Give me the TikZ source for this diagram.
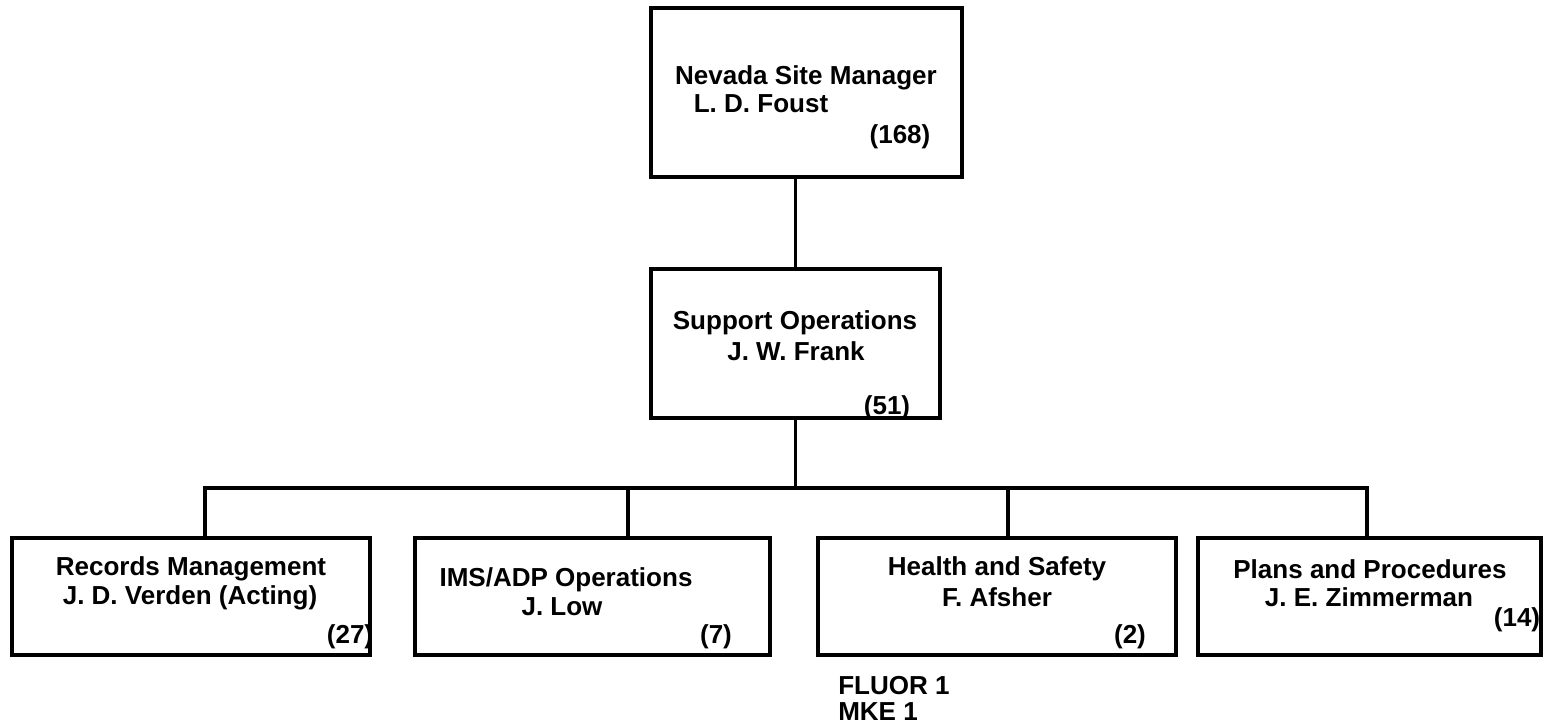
\documentclass[tikz,border=0pt]{standalone}
\usepackage{fontspec}
\setmainfont{Liberation Sans}
\begin{document}
\begin{tikzpicture}[
    x=0.025cm, y=-0.025cm,
    unit/.style 2 args={rectangle, draw, line width=2.4pt, inner sep=0pt, outer sep=0pt,
        minimum width=#1*0.025cm, minimum height=#2*0.025cm},
    title/.style={font=\fontsize{18.5}{22}\selectfont\bfseries, inner sep=0pt},
    count/.style={font=\fontsize{18.5}{22}\selectfont\bfseries, inner sep=0pt},
    link/.style={line width=2.4pt}
]
    \useasboundingbox (0,0) rectangle (1543,726);

    % Management
    \node[unit={311}{169}] (manager) at (806.5,92.5) {};
    \node[title] (manager_name) at (806,78) {Nevada Site Manager};
    \node[title] (manager_head) at (761,104) {L. D. Foust};
    \node[count] (manager_n) at (900,137) {(168)};

    \node[unit={289}{149}] (support) at (795.5,343.5) {};
    \node[title] (support_name) at (795,323) {Support Operations};
    \node[title] (support_head) at (796,351) {J. W. Frank};
    \node[count] (support_n) at (887,408) {(51)};

    % Groups
    \node[unit={358}{117}] (records) at (191,596.5) {};
    \node[title] (records_name) at (191,569) {Records Management};
    \node[title] (records_head) at (190,598) {J. D. Verden (Acting)};
    \node[count] (records_n) at (350,637) {(27)};

    \node[unit={355}{117}] (imsadp) at (592.5,596.5) {};
    \node[title] (imsadp_name) at (566,580) {IMS/ADP Operations};
    \node[title] (imsadp_head) at (562,607) {J. Low};
    \node[count] (imsadp_n) at (716,637) {(7)};

    \node[unit={358}{117}] (safety) at (997,596.5) {};
    \node[title] (safety_name) at (997,569) {Health and Safety};
    \node[title] (safety_head) at (997,597) {F. Afsher};
    \node[count] (safety_n) at (1130,637) {(2)};

    \node[unit={343}{117}] (plans) at (1369.5,596.5) {};
    \node[title] (plans_name) at (1370,569) {Plans and Procedures};
    \node[title] (plans_head) at (1369,597) {J. E. Zimmerman};
    \node[count] (plans_n) at (1517,620) {(14)};

    % Note
    \node[count, anchor=west] (fluor) at (838,686) {FLUOR 1};
    \node[count, anchor=west] (mke) at (838,712) {MKE 1};

    % Connections
    \coordinate (bus) at (795.5,488);
    \draw[link] (support.north) -- (support.north |- manager.south);
    \draw[link] (support.south) -- (bus);
    \draw[link] (bus) -| ([xshift=0.35cm]records.north);
    \draw[link] (bus) -| ([xshift=0.89cm]imsadp.north);
    \draw[link] (bus) -| ([xshift=0.275cm]safety.north);
    \draw[link] (bus) -| ([xshift=-0.06cm]plans.north);
\end{tikzpicture}
\end{document}
